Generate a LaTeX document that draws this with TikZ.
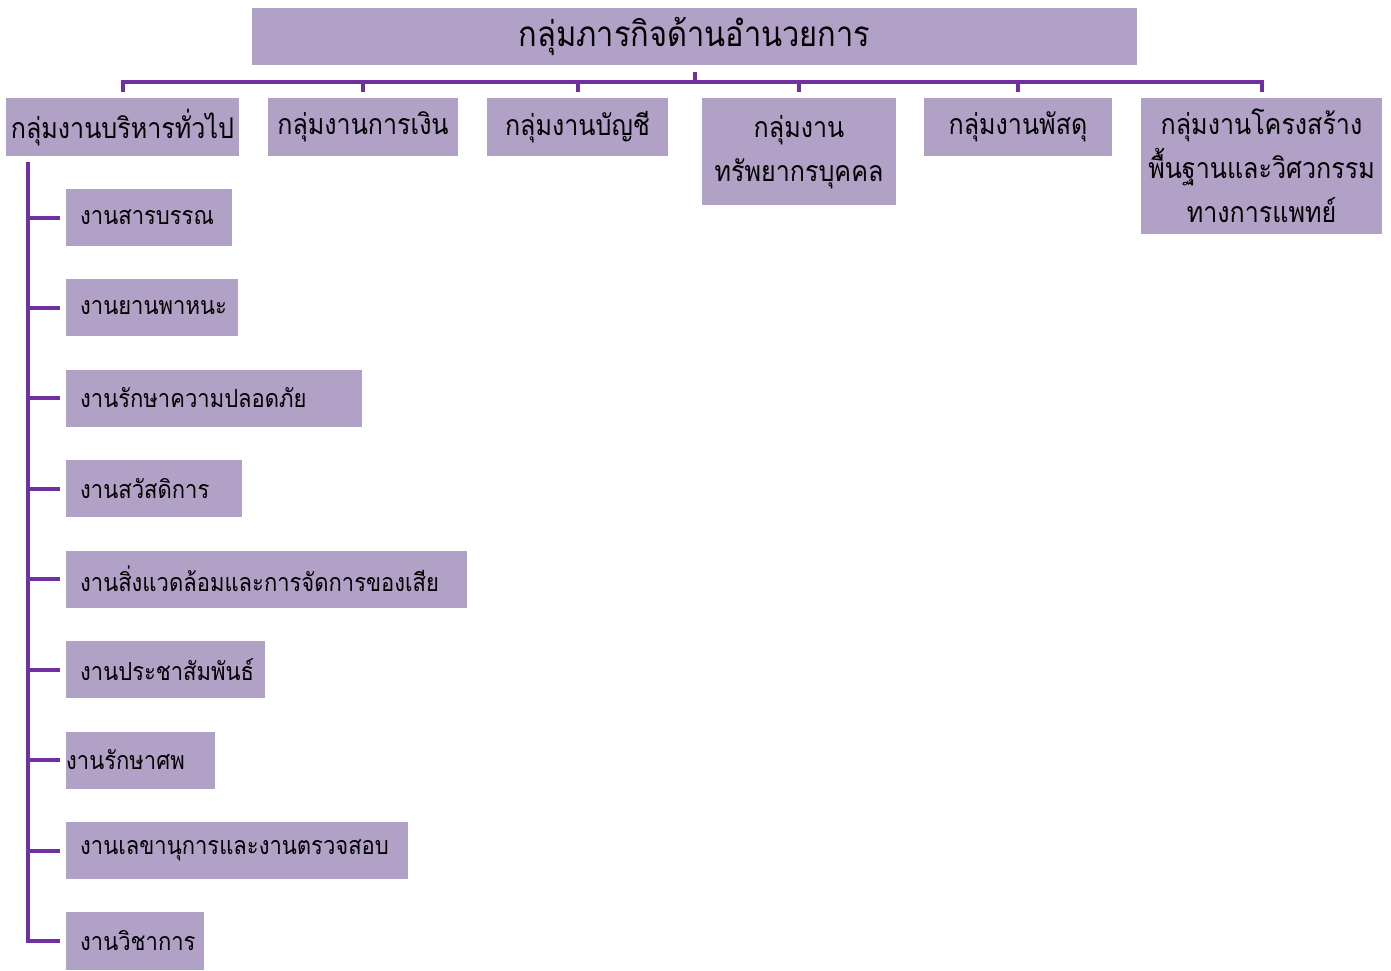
\documentclass[tikz,border=0pt]{standalone}
\usepackage{fontspec}
\newfontfamily\thaifont[Script=Thai,FakeStretch=0.88]{Loma}
\definecolor{boxfill}{RGB}{178,161,199}
\definecolor{linkpurple}{RGB}{112,48,160}
\begin{document}
\begin{tikzpicture}[x=1pt,y=-1pt,
  box/.style={fill=boxfill, inner sep=0pt, text=black},
  headbox/.style={box, font=\thaifont\fontsize{35}{40}\selectfont},
  groupbox/.style={box, anchor=north, align=center,
    font=\thaifont\fontsize{28.5}{44}\selectfont},
  unitbox/.style={box, anchor=west, minimum height=57pt, inner xsep=14pt,
    text width=#1, align=left, font=\thaifont\fontsize{25}{28}\selectfont},
  conn/.style={draw=linkpurple, line width=4pt}]
\useasboundingbox (0,0) rectangle (1391,970);

% top level
\node[headbox, minimum width=885pt, minimum height=57pt] (top) at (694.5,36.5)
  {กลุ่มภารกิจด้านอำนวยการ};

% second level groups
\node[groupbox, minimum width=233pt, minimum height=58pt] (g1) at (122.5,98) {กลุ่มงานบริหารทั่วไป};
\node[groupbox, minimum width=190pt, minimum height=58pt] (g2) at (363,98) {กลุ่มงานการเงิน};
\node[groupbox, minimum width=181pt, minimum height=58pt] (g3) at (577.5,98) {กลุ่มงานบัญชี};
\node[groupbox, minimum width=194pt, minimum height=107pt] (g4) at (799,98) {กลุ่มงาน\\ทรัพยากรบุคคล};
\node[groupbox, minimum width=188pt, minimum height=58pt] (g5) at (1018,98) {กลุ่มงานพัสดุ};
\node[groupbox, minimum width=241pt, minimum height=136pt] (g6) at (1261.5,98) {กลุ่มงานโครงสร้าง\\พื้นฐานและวิศวกรรม\\ทางการแพทย์};

% units under general administration
\node[unitbox=138pt] (c1) at (66,217.5) {งานสารบรรณ};
\node[unitbox=144pt] (c2) at (66,307.5) {งานยานพาหนะ};
\node[unitbox=268pt] (c3) at (66,398) {งานรักษาความปลอดภัย};
\node[unitbox=148pt] (c4) at (66,488.5) {งานสวัสดิการ};
\node[unitbox=373pt] (c5) at (66,579) {งานสิ่งแวดล้อมและการจัดการของเสีย};
\node[unitbox=171pt] (c6) at (66,669.5) {งานประชาสัมพันธ์};
\node[unitbox=149pt, inner xsep=0pt] (c7) at (66,760) {งานรักษาศพ};
\node[unitbox=314pt] (c8) at (66,850.5) {งานเลขานุการและงานตรวจสอบ};
\node[unitbox=110pt, minimum height=58pt] (c9) at (66,941) {งานวิชาการ};

% bus between the top box and the groups
\coordinate (bus) at (0,82);
\draw[conn] ([yshift=-7pt]top.south) -- (top.south |- bus);
\draw[conn] ([yshift=6pt]g1.north) -- (g1.north |- bus) -- (g6.north |- bus) -- ([yshift=6pt]g6.north);
\foreach \g in {g2,g3,g4,g5}
  \draw[conn] (\g.north |- bus) -- ([yshift=6pt]\g.north);

% spine down the left side
\coordinate (spine) at ([xshift=22pt,yshift=-6pt]g1.south west);
\draw[conn] (spine) |- ([xshift=-6pt]c9.west);
\foreach \c in {c1,c2,c3,c4,c5,c6,c7,c8}
  \draw[conn] (spine |- \c.west) -- ([xshift=-6pt]\c.west);
\end{tikzpicture}
\end{document}
